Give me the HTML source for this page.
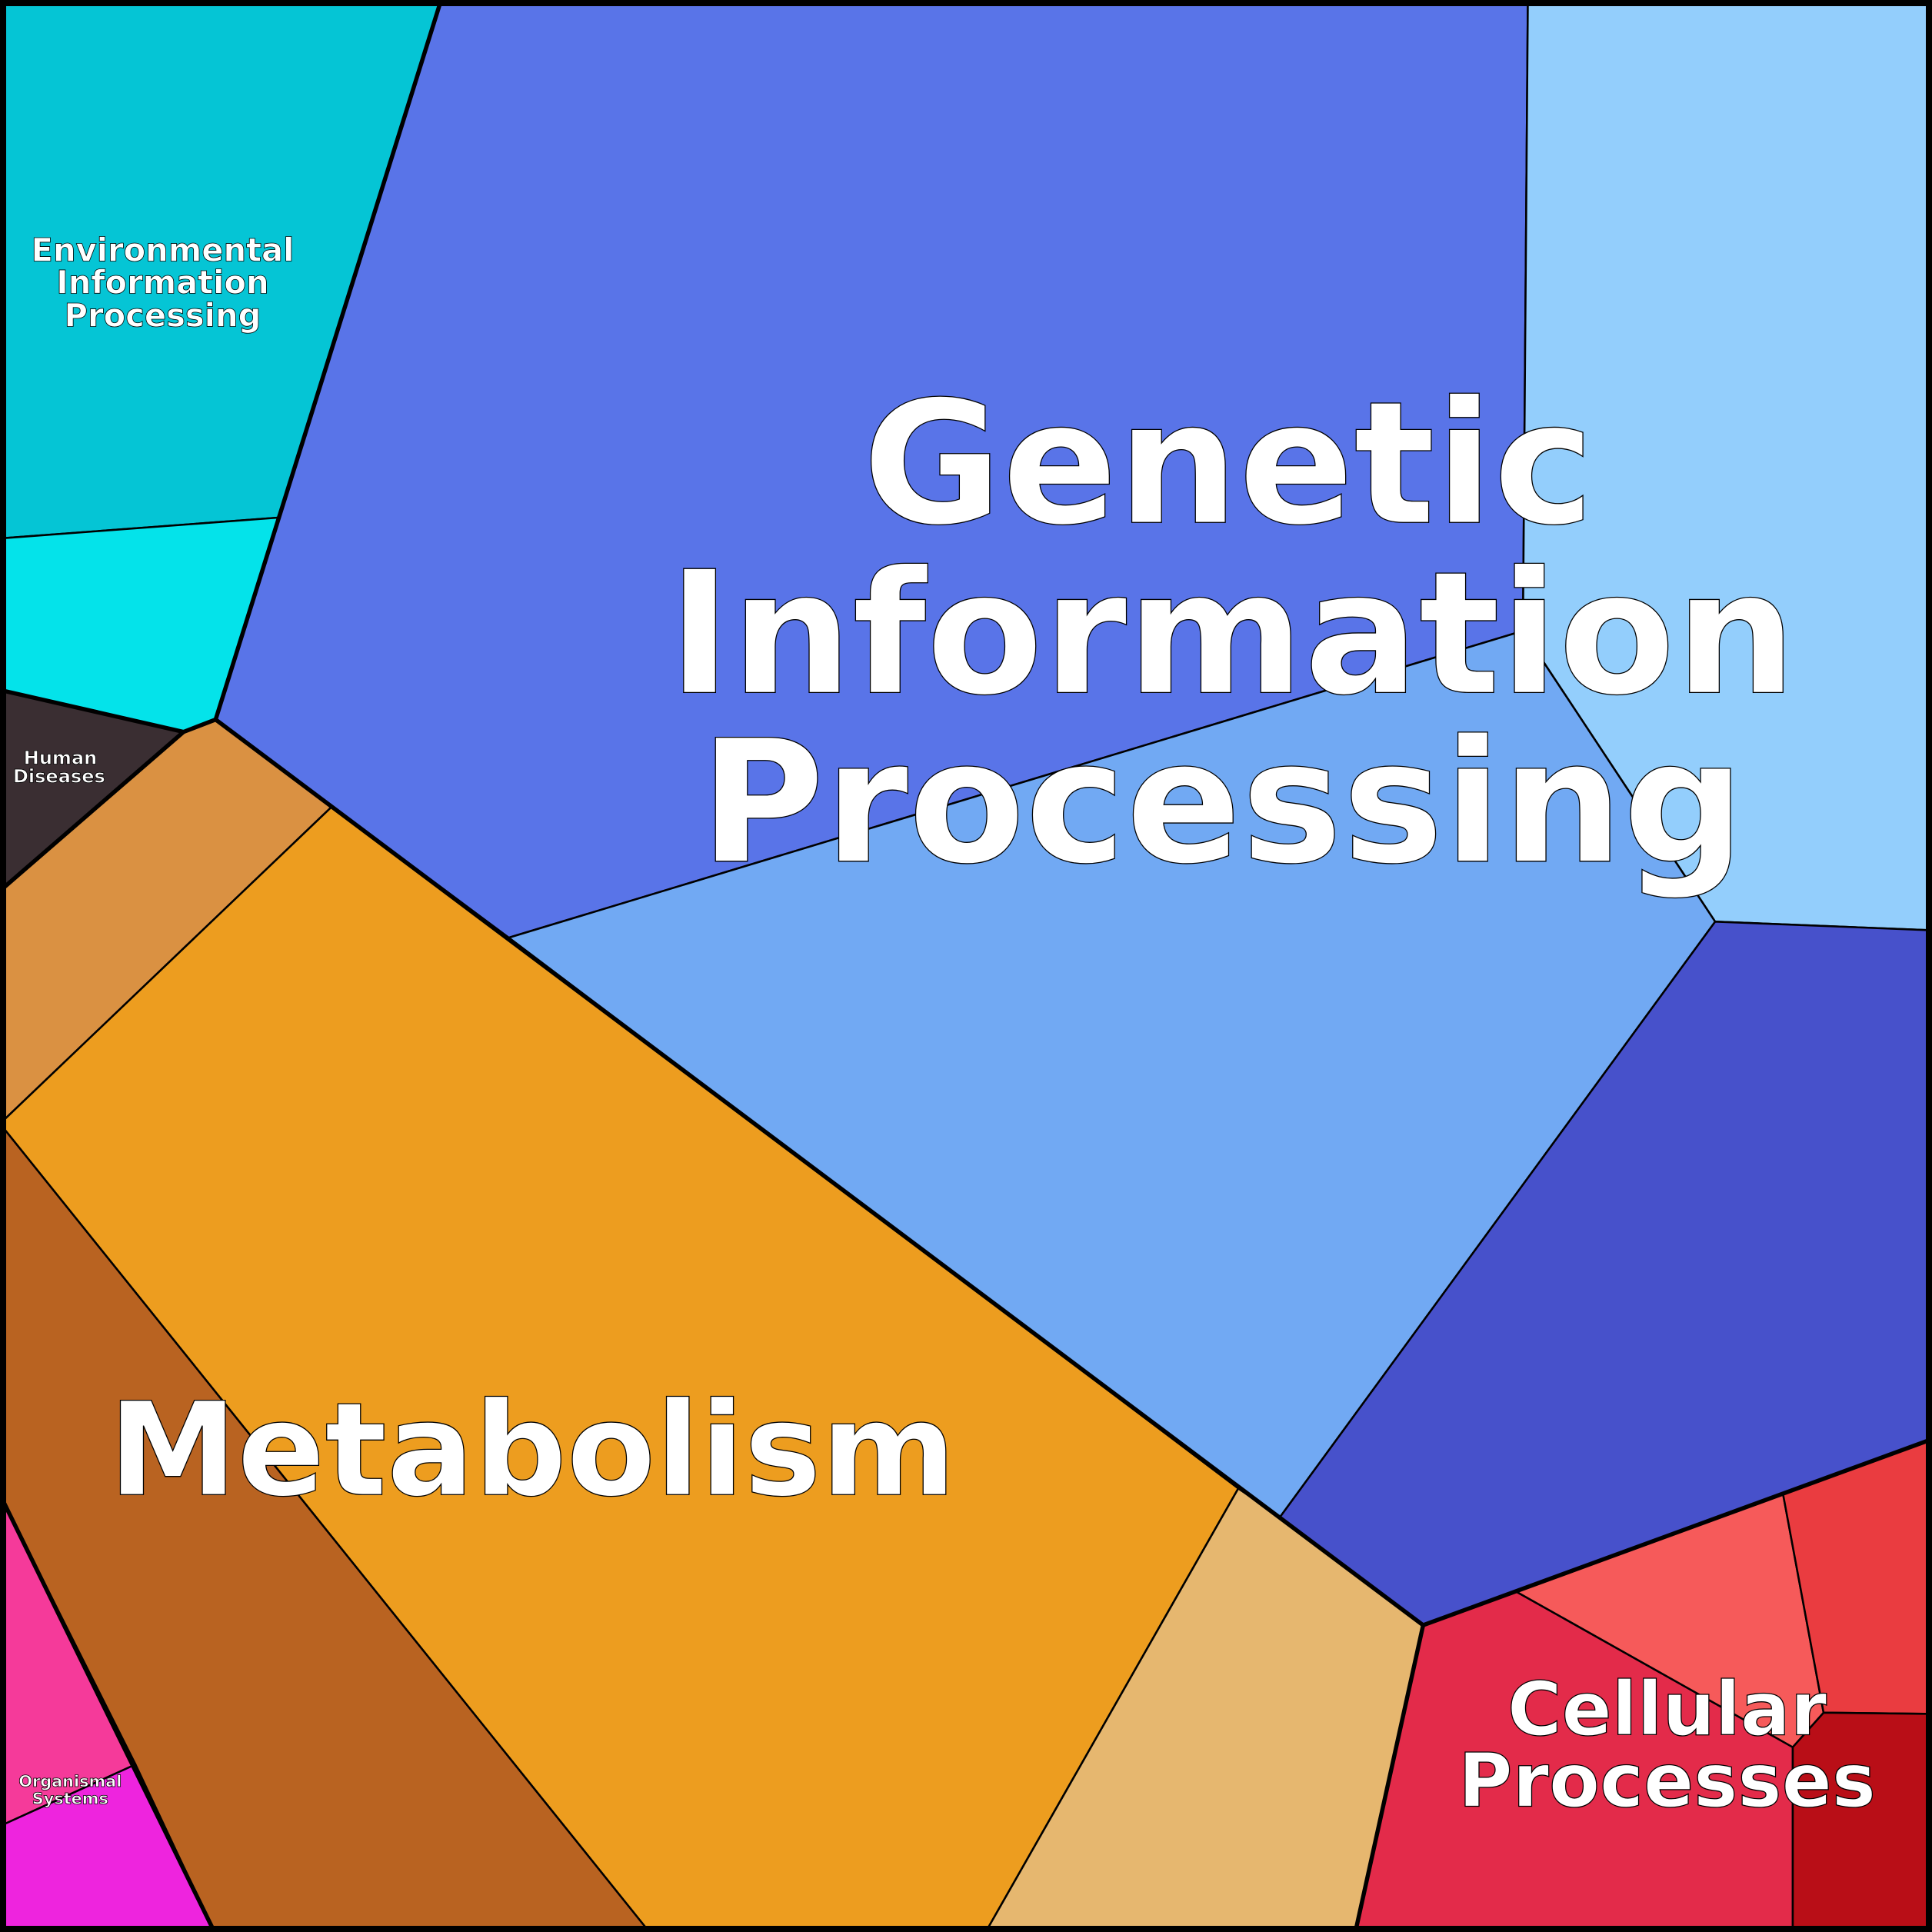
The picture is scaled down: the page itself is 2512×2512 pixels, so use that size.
<!DOCTYPE html>
<html><head><meta charset="utf-8"><style>
html,body{margin:0;padding:0;background:#fff}
svg{display:block}
text{font-family:"DejaVu Sans","Liberation Sans",sans-serif;font-weight:bold;fill:#fff;stroke:#000;text-anchor:middle}
</style></head><body>
<svg width="2512" height="2512" viewBox="0 0 1568 1568" xmlns="http://www.w3.org/2000/svg">
<g stroke="#000" stroke-width="1.6" stroke-linejoin="round">
<polygon fill="#05C5D5" points="0,0 358,0 227,420 0,437"/>
<polygon fill="#04E3EA" points="0,437 227,420 175,584 149,594 0,560"/>
<polygon fill="#3A2E32" points="0,560 149,594 0,723"/>
<polygon fill="#DA9142" points="0,723 149,594 175,584 269,655 0,912"/>
<polygon fill="#ED9D1F" points="269,655 413,761 1005,1208 800,1568 527,1568 0,912"/>
<polygon fill="#B96321" points="0,912 527,1568 174,1568 0,1213"/>
<polygon fill="#F53A9A" points="0,1213 110,1432 0,1482"/>
<polygon fill="#EE24DE" points="0,1482 110,1432 174,1568 0,1568"/>
<polygon fill="#E6B76F" points="1005,1208 1039,1231 1155,1319 1100,1568 800,1568"/>
<polygon fill="#5974E8" points="358,0 1240,0 1236,512 413,761 175,584"/>
<polygon fill="#93CEFC" points="1240,0 1568,0 1568,755 1392,748 1236,512"/>
<polygon fill="#71A9F3" points="413,761 1236,512 1392,748 1039,1231 1005,1208"/>
<polygon fill="#4751CB" points="1392,748 1568,755 1568,1168 1155,1319 1039,1231"/>
<polygon fill="#E32B4A" points="1155,1319 1231,1292 1455,1418 1455,1568 1100,1568"/>
<polygon fill="#F65A5A" points="1231,1292 1447,1212 1480,1390 1455,1418"/>
<polygon fill="#EA3C40" points="1447,1212 1568,1168 1568,1391 1480,1390"/>
<polygon fill="#B90E17" points="1480,1390 1568,1391 1568,1568 1455,1568 1455,1418"/>
</g>
<g stroke="#000" stroke-width="3.4" fill="none" stroke-linejoin="round" stroke-linecap="round">
<polyline points="358,0 175,584 1155,1319 1568,1168"/>
<polyline points="1155,1319 1100,1568"/>
<polyline points="0,560 149,594 175,584"/>
<polyline points="149,594 0,723"/>
<polyline points="0,1213 174,1568"/>
</g>
<rect x="2.5" y="2.5" width="1563" height="1563" fill="none" stroke="#000" stroke-width="5"/>
<g stroke-width="0.8">
<text font-size="138" x="997" y="424">Genetic</text>
<text font-size="138" x="1000" y="562">Information</text>
<text font-size="138" x="992" y="699">Processing</text>
<text font-size="105" x="432" y="1213">Metabolism</text>
<text font-size="60" x="1353" y="1408">Cellular</text>
<text font-size="60" x="1353" y="1466">Processes</text>
</g>
<g stroke-width="0.5">
<text font-size="26" x="132" y="212">Environmental</text>
<text font-size="26" x="132" y="238">Information</text>
<text font-size="26" x="132" y="265">Processing</text>
<text font-size="15" x="49" y="620">Human</text>
<text font-size="15" x="48" y="635">Diseases</text>
<text font-size="13" x="57" y="1450">Organismal</text>
<text font-size="13" x="57" y="1464">Systems</text>
</g>
</svg>
</body></html>
